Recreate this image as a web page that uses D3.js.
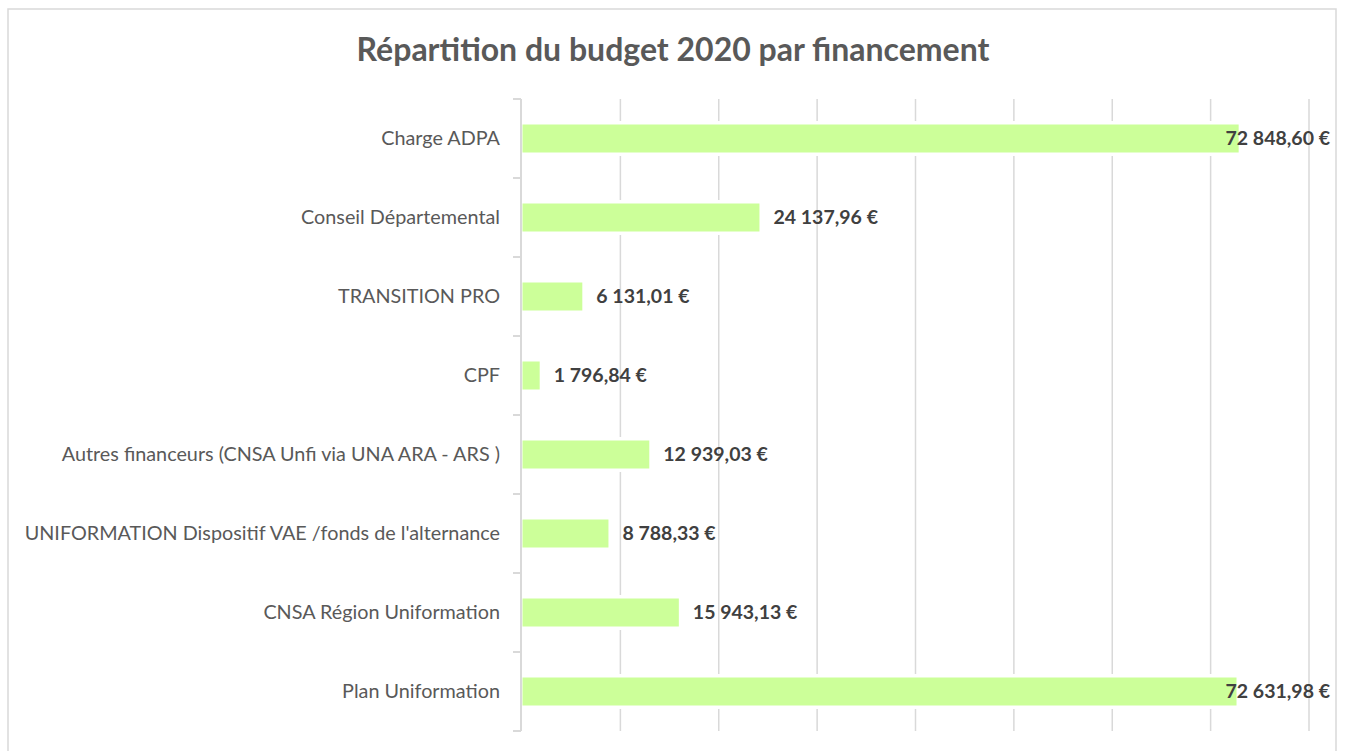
<!DOCTYPE html>
<html>
<head>
<meta charset="utf-8">
<script src="https://cdn.jsdelivr.net/npm/d3@7"></script>
<style>
  body { margin: 0; background: #fff; }
  text { font-family: Lato, "Open Sans", sans-serif; }
</style>
</head>
<body>
<div id="chart"></div>
<script>
const categories = [
    "Charge ADPA",
    "Conseil Départemental",
    "TRANSITION PRO",
    "CPF",
    "Autres financeurs (CNSA Unfi via UNA ARA - ARS )",
    "UNIFORMATION Dispositif VAE /fonds de l'alternance",
    "CNSA Région Uniformation",
    "Plan Uniformation"
];
const values = [72848.60, 24137.96, 6131.01, 1796.84, 12939.03, 8788.33, 15943.13, 72631.98];
const gridTicks = [10000, 20000, 30000, 40000, 50000, 60000, 70000, 80000];
const chartTitle = "Répartition du budget 2020 par financement";

const width = 1346;
const height = 751;
const plotLeft = 522, plotRight = 1309, plotTop = 99, plotBottom = 731;

const svg = d3.select("#chart").append("svg")
    .attr("width", width)
    .attr("height", height);

svg.append("rect")
    .attr("width", width).attr("height", height)
    .attr("fill", "#fff");

// chart frame
svg.append("rect")
    .attr("x", 8).attr("y", 9)
    .attr("width", 1328).attr("height", 780)
    .attr("fill", "none")
    .attr("stroke", "#d9d9d9")
    .attr("stroke-width", 1.5);

svg.append("text")
    .attr("x", 673).attr("y", 61)
    .attr("text-anchor", "middle")
    .attr("font-size", 32)
    .attr("font-weight", "bold")
    .attr("fill", "#595959")
    .text(chartTitle);

const x = d3.scaleLinear().domain([0, 80000]).range([plotLeft, plotRight]);
const y = d3.scaleBand().domain(categories).range([plotTop, plotBottom]);

const frFormat = d3.formatLocale({ decimal: ",", thousands: " ", grouping: [3], currency: ["", " €"] });
const fmt = v => frFormat.format(",.2f")(v) + " €";

// gridlines
svg.selectAll(".grid")
    .data(gridTicks)
    .join("line")
    .attr("class", "grid")
    .attr("x1", d => x(d)).attr("x2", d => x(d))
    .attr("y1", plotTop).attr("y2", plotBottom)
    .attr("stroke", "#d9d9d9")
    .attr("stroke-width", 1.5);

// category axis with ticks between categories
const tickYs = categories.map(c => y(c)).concat([plotBottom]);
svg.append("line")
    .attr("x1", plotLeft - 1).attr("x2", plotLeft - 1)
    .attr("y1", plotTop).attr("y2", plotBottom)
    .attr("stroke", "#d9d9d9").attr("stroke-width", 2);
svg.selectAll(".tick")
    .data(tickYs)
    .join("line")
    .attr("class", "tick")
    .attr("x1", plotLeft - 9).attr("x2", plotLeft - 1)
    .attr("y1", d => d).attr("y2", d => d)
    .attr("stroke", "#d9d9d9").attr("stroke-width", 2);

const barH = 28;
const rows = categories.map((c, i) => ({ cat: c, value: values[i] }));

// white halo behind bars
svg.selectAll(".halo")
    .data(rows)
    .join("rect")
    .attr("class", "halo")
    .attr("x", plotLeft)
    .attr("y", d => y(d.cat) + y.bandwidth() / 2 - barH / 2 - 3.5)
    .attr("width", d => x(d.value) - plotLeft + 3.5)
    .attr("height", barH + 7)
    .attr("fill", "#fff");

svg.selectAll(".bar")
    .data(rows)
    .join("rect")
    .attr("class", "bar")
    .attr("x", plotLeft + 0.5)
    .attr("y", d => y(d.cat) + y.bandwidth() / 2 - barH / 2)
    .attr("width", d => x(d.value) - plotLeft - 0.5)
    .attr("height", barH)
    .attr("fill", "#ccff99");

svg.selectAll(".cat")
    .data(rows)
    .join("text")
    .attr("class", "cat")
    .attr("x", 500)
    .attr("y", d => y(d.cat) + y.bandwidth() / 2)
    .attr("dy", "0.35em")
    .attr("text-anchor", "end")
    .attr("font-size", 19.8)
    .attr("fill", "#595959")
    .text(d => d.cat);

// value labels, pushed back inside when they would overflow the plot
svg.selectAll(".val")
    .data(rows)
    .join("text")
    .attr("class", "val")
    .attr("y", d => y(d.cat) + y.bandwidth() / 2)
    .attr("dy", "0.35em")
    .attr("font-size", 19.5)
    .attr("font-weight", "bold")
    .attr("fill", "#404040")
    .text(d => fmt(d.value))
    .attr("x", function (d) {
        const w = this.getComputedTextLength();
        const px = x(d.value) + 14;
        return px + w > 1330 ? 1330 - w : px;
    });
</script>
</body>
</html>
